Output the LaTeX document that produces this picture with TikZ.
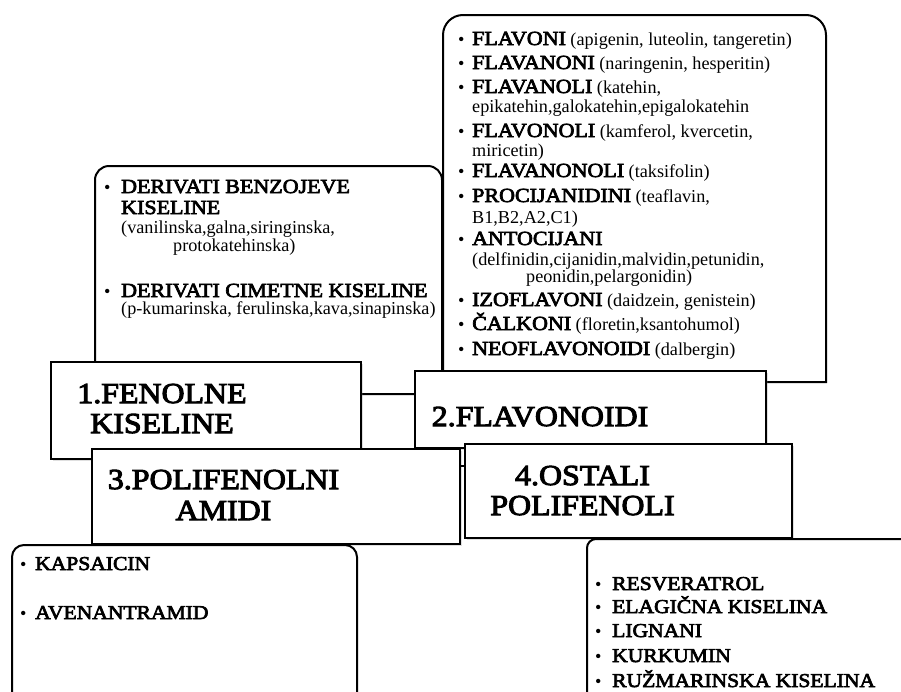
\documentclass[tikz,border=0pt]{standalone}
\usepackage{fontspec}
\setmainfont{Liberation Serif}[BoldFont={Liberation Serif}, BoldFeatures={FakeBold=3.5, FakeStretch=1.1}]
\usetikzlibrary{shadows}
\newcommand\hb[1]{{\fontsize{20}{20}\selectfont\bfseries #1}}
\newcommand\hk[1]{{\fontsize{19.6}{19.6}\selectfont\bfseries #1}}
\newcommand\bl[1]{\makebox[#1][l]{•}}
\tikzset{
  mbox/.style={draw=black, line width=2.4pt, fill=white, inner sep=0pt, outer sep=0pt,
    drop shadow={shadow xshift=2pt, shadow yshift=-2pt, opacity=0.25}},
  dbox/.style={draw=black, line width=2pt, fill=white},
  lbl/.style={anchor=base, inner sep=0pt, font=\fontsize{29}{29}\selectfont\bfseries},
  bt/.style={anchor=base west, inner sep=0pt, font=\fontsize{18.2}{18.2}\selectfont},
}
\begin{document}
\begin{tikzpicture}[x=1pt, y=-1pt]
\path[use as bounding box] (0,0) rectangle (901,691);
\clip (0,0) rectangle (901,691);
\fill[white] (0,0) rectangle (901,691);

% detail box of phenolic acids
\draw[dbox, rounded corners=14pt] (95,166) rectangle (442,394);
% detail box of flavonoids
\draw[dbox] (826,382) -- (443,382) -- (443,35) arc[start angle=180, end angle=270, radius=20]
  -- (806,15) arc[start angle=270, end angle=360, radius=20] -- cycle;

% main boxes
\node[mbox, minimum width=310pt, minimum height=97pt] (b1) at (206,410.5) {};
\node[mbox, minimum width=351pt, minimum height=77pt] (b2) at (590.5,409.5) {};
\node[mbox, minimum width=368pt, minimum height=95pt] (b3) at (276,496.5) {};
\node[mbox, minimum width=327pt, minimum height=94pt] (b4) at (628.5,491) {};
\coordinate (c34) at (0,466);
\draw[line width=2pt] (b3.east |- c34) -- (b4.west |- c34);

% lower detail boxes
\draw[dbox, rounded corners=12pt] (12,545) rectangle (357,740);
\draw[dbox, rounded corners=9pt] (587,539) rectangle (940,740);

% main labels
\node[lbl] (t1a) at (162,403) {1.FENOLNE};
\node[lbl] (t1b) at (162,433) {KISELINE};
\node[lbl] (t2) at (540,426) {2.FLAVONOIDI};
\node[lbl] (t3a) at (223.5,489) {3.POLIFENOLNI};
\node[lbl] (t3b) at (223.5,520) {AMIDI};
\node[lbl] (t4a) at (582.5,485) {4.OSTALI};
\node[lbl] (t4b) at (582.5,515) {POLIFENOLI};

% phenolic acids text
\node[bt] (a1) at (104,193) {\bl{17pt}\hb{DERIVATI BENZOJEVE}};
\node[bt] (a2) at (121,214) {\hb{KISELINE}};
\node[bt] (a3) at (121,233) {(vanilinska,galna,siringinska,};
\node[bt] (a4) at (173,251) {protokatehinska)};
\node[bt] (a5) at (104,297) {\bl{17pt}\hb{DERIVATI CIMETNE KISELINE}};
\node[bt] (a6) at (121,314) {(p-kumarinska, ferulinska,kava,sinapinska)};

% flavonoids text
\node[bt] (f1) at (458,45) {\bl{14pt}\hb{FLAVONI} (apigenin, luteolin, tangeretin)};
\node[bt] (f2) at (458,69) {\bl{14pt}\hb{FLAVANONI} (naringenin, hesperitin)};
\node[bt] (f3) at (458,93) {\bl{14pt}\hb{FLAVANOLI} (katehin,};
\node[bt] (f3b) at (472,112) {epikatehin,galokatehin,epigalokatehin};
\node[bt] (f4) at (458,137) {\bl{14pt}\hb{FLAVONOLI} (kamferol, kvercetin,};
\node[bt] (f4b) at (472,156) {miricetin)};
\node[bt] (f5) at (458,177) {\bl{14pt}\hb{FLAVANONOLI} (taksifolin)};
\node[bt] (f6) at (458,202) {\bl{14pt}\hb{PROCIJANIDINI} (teaflavin,};
\node[bt] (f6b) at (472,223) {B1,B2,A2,C1)};
\node[bt] (f7) at (458,245) {\bl{14pt}\hb{ANTOCIJANI}};
\node[bt] (f7b) at (472,265) {(delfinidin,cijanidin,malvidin,petunidin,};
\node[bt] (f7c) at (526,282) {peonidin,pelargonidin)};
\node[bt] (f8) at (458,306) {\bl{14pt}\hb{IZOFLAVONI} (daidzein, genistein)};
\node[bt] (f9) at (458,330) {\bl{14pt}\hb{ČALKONI} (floretin,ksantohumol)};
\node[bt] (f10) at (458,355) {\bl{14pt}\hb{NEOFLAVONOIDI} (dalbergin)};

% amides text
\node[bt] (k1) at (20,570) {\bl{15pt}\hk{KAPSAICIN}};
\node[bt] (k2) at (20,619) {\bl{15pt}\hk{AVENANTRAMID}};

% other polyphenols text
\node[bt] (r1) at (595,590) {\bl{17pt}\hk{RESVERATROL}};
\node[bt] (r2) at (595,613) {\bl{17pt}\hk{ELAGIČNA KISELINA}};
\node[bt] (r3) at (595,637) {\bl{17pt}\hk{LIGNANI}};
\node[bt] (r4) at (595,662) {\bl{17pt}\hk{KURKUMIN}};
\node[bt] (r5) at (595,687) {\bl{17pt}\hk{RUŽMARINSKA KISELINA}};
\end{tikzpicture}
\end{document}
